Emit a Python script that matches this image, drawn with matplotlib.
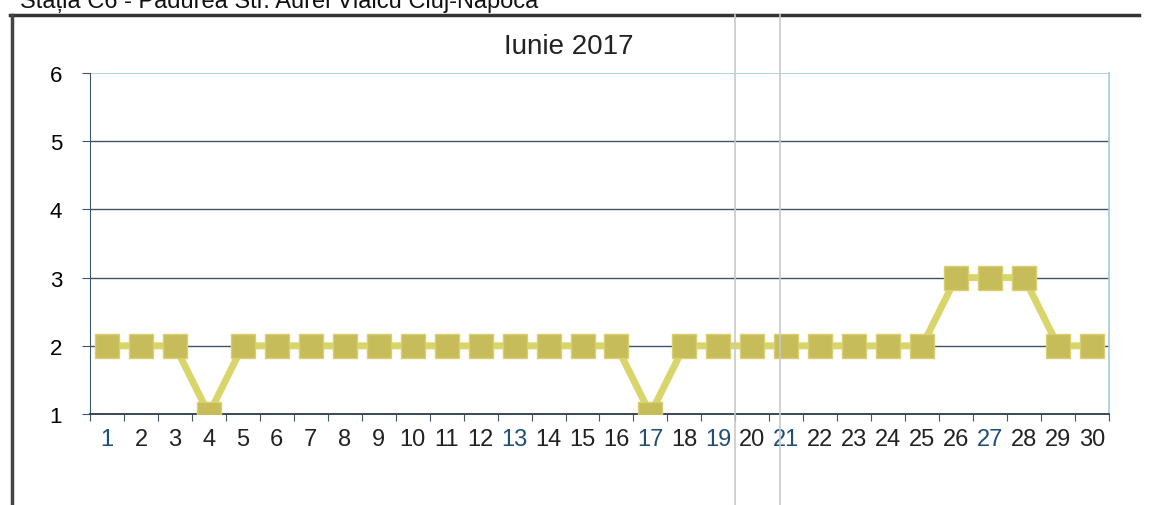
import matplotlib
matplotlib.use("Agg")
import matplotlib.pyplot as plt
from matplotlib.lines import Line2D

# ── data ──────────────────────────────────────────────
days = list(range(1, 31))
values = [2, 2, 2, 1, 2, 2, 2, 2, 2, 2, 2, 2, 2, 2, 2, 2, 1, 2, 2, 2,
          2, 2, 2, 2, 2, 3, 3, 3, 2, 2]
y_ticks = [1, 2, 3, 4, 5, 6]
blue_labels = [1, 13, 17, 19, 21, 27]

C_LINE = "#D8D66A"
C_MARK = "#C7BC5A"
C_GRID = "#3E5566"
C_LBLUE = "#9FCBE3"

plt.rcParams["font.family"] = ["Liberation Sans", "DejaVu Sans"]

fig = plt.figure(figsize=(11.51, 5.06), dpi=100)
ax = fig.add_axes([0.0782, 0.1798, 0.8853, 0.674])

x = list(range(len(days)))
ax.plot(x, values, color=C_LINE, linewidth=5, zorder=3)
ax.plot(x, values, linestyle="none", marker="s", markersize=17,
        markerfacecolor=C_MARK, markeredgecolor="#D8D070",
        markeredgewidth=1, zorder=4)

ax.set_xlim(-0.5, len(days) - 0.5)
ax.set_ylim(1, 6)
ax.set_yticks(y_ticks)
ax.set_yticklabels([str(v) for v in y_ticks], fontsize=16)
for v in y_ticks[1:-1]:
    ax.axhline(v, color=C_GRID, linewidth=1.0, zorder=1)
ax.axhline(6, color=C_LBLUE, linewidth=1.2, zorder=1)

# category axis: ticks between categories, labels centred
ax.set_xticks([i - 0.5 for i in range(len(days) + 1)])
ax.set_xticklabels([])
ax.set_xticks(x, minor=True)
ax.set_xticklabels([str(d) for d in days], minor=True, fontsize=17)
ax.tick_params(axis="x", which="minor", length=0, pad=10)
ax.tick_params(axis="x", which="major", length=5, direction="out",
               color=C_GRID)
ax.tick_params(axis="y", length=6, direction="out", color=C_GRID, pad=14)
for lbl, d in zip(ax.get_xticklabels(minor=True), days):
    lbl.set_color("#1F4E79" if d in blue_labels else "#222222")

ax.spines["left"].set_color(C_GRID)
ax.spines["bottom"].set_color("#2A3A48")
ax.spines["bottom"].set_linewidth(1.3)
ax.spines["top"].set_visible(False)
ax.spines["right"].set_color(C_LBLUE)
ax.spines["right"].set_linewidth(1.2)

fig.text(0.494, 0.907, "Iunie 2017", fontsize=20, ha="center", va="center",
         color="#222222")

# scanned page header (cut at the top edge) and chart frame
fig.text(0.017, 0.975, "Stația C6 - Pădurea Str. Aurel Vlaicu Cluj-Napoca",
         fontsize=17, ha="left", va="bottom", color="#111111")
fig.add_artist(Line2D([0.009, 0.99], [0.968, 0.968], color="#333333",
                      linewidth=2.5, transform=fig.transFigure))
fig.add_artist(Line2D([0.010, 0.010], [0.0, 0.968], color="#444444",
                      linewidth=2.5, transform=fig.transFigure))
# scanner streaks
for xs in (0.639, 0.678):
    fig.add_artist(Line2D([xs, xs], [0.0, 0.968], color="#C8C8C8",
                          linewidth=1.2, transform=fig.transFigure, zorder=5))

fig.savefig("out.png", dpi=100)
